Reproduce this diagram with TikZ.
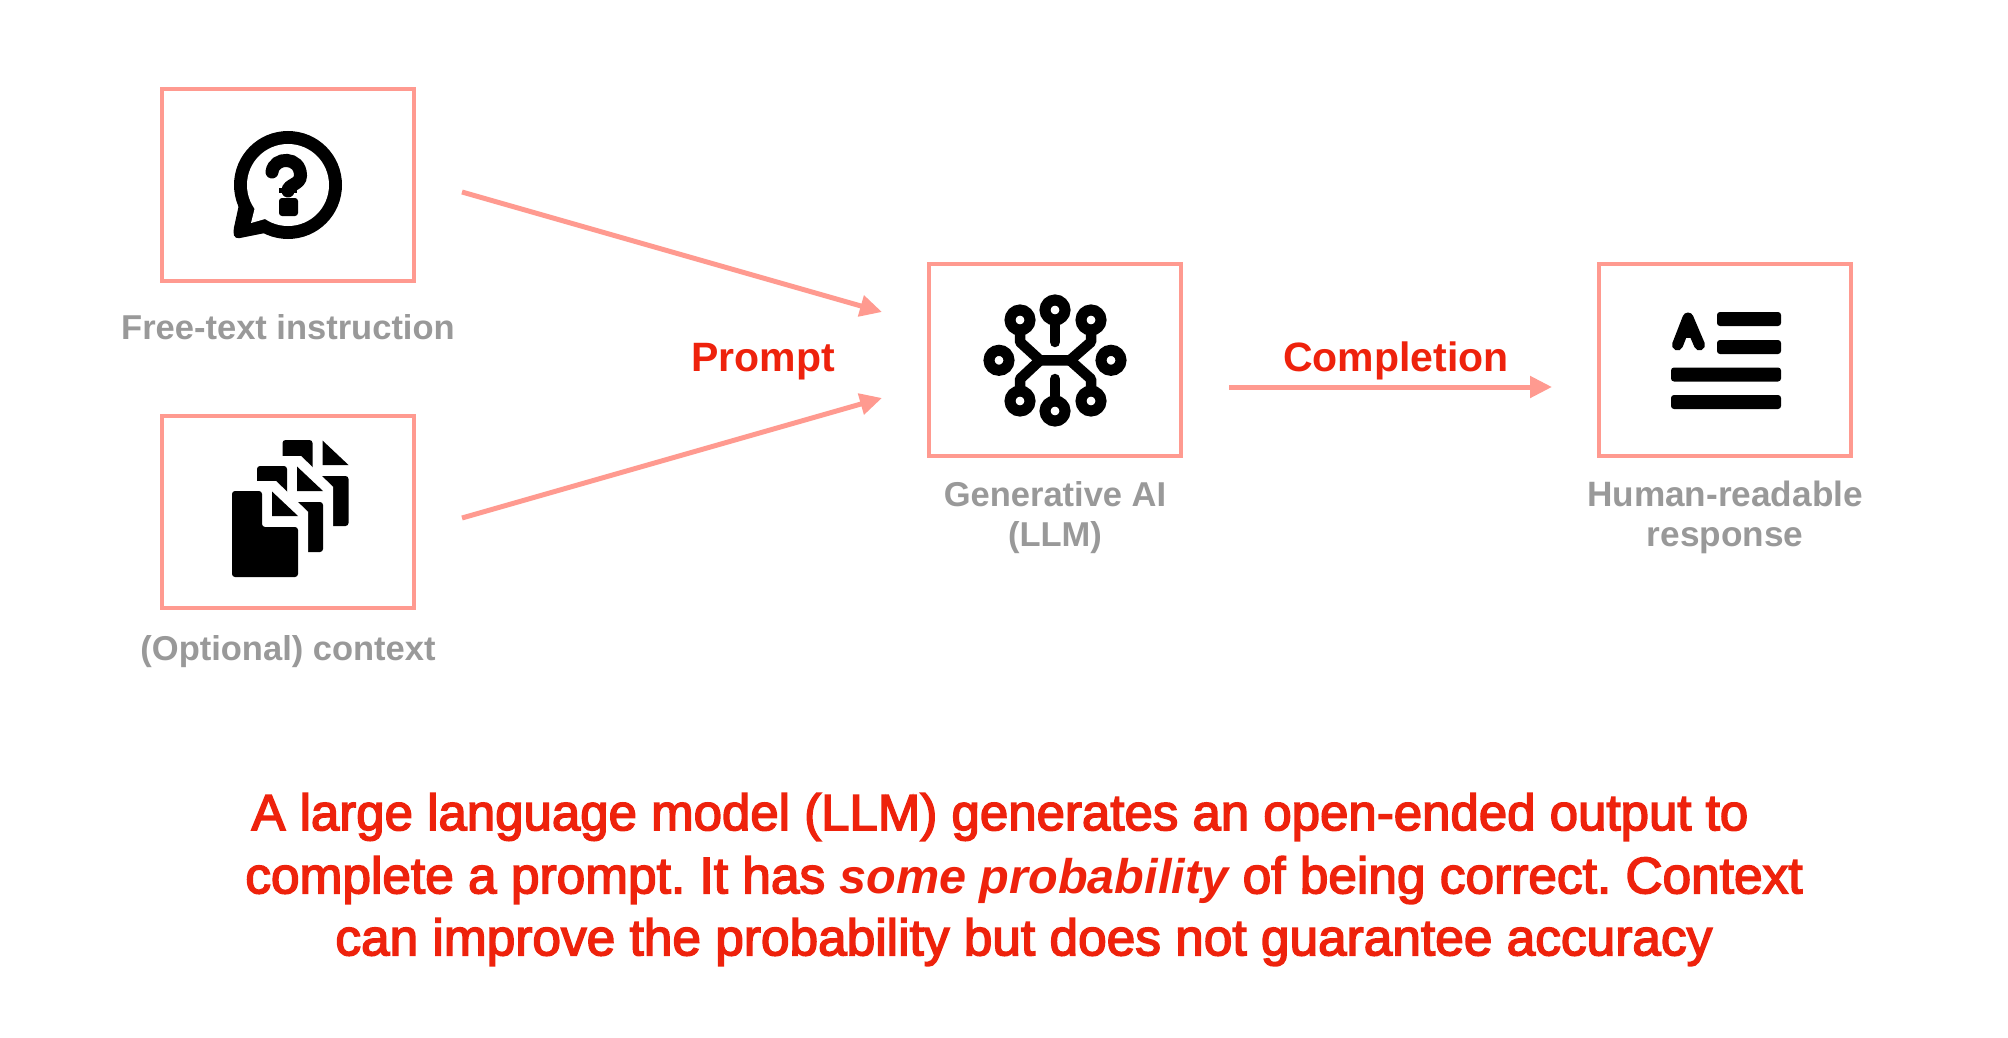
\documentclass[tikz,border=0pt]{standalone}
\usepackage{fontspec}
\setmainfont{Liberation Sans}
\newfontfamily\bodyfont[FakeBold=3]{Liberation Sans}
\newfontfamily\bifont[UprightFont={* Bold Italic}]{Liberation Sans}
\usetikzlibrary{arrows.meta}
\definecolor{boxpink}{HTML}{FF9A90}
\definecolor{cap}{HTML}{999999}
\definecolor{redtxt}{HTML}{EE220C}
\tikzset{x=1pt,y=-1pt,
 pic box/.style={draw=boxpink,line width=4pt,minimum width=252pt,minimum height=192pt,inner sep=0pt,outer sep=0pt,anchor=north west},
 caption/.style={text=cap,font=\fontsize{34.5}{40}\selectfont\bfseries,align=center,inner sep=0pt,anchor=center},
 lab/.style={text=redtxt,font=\fontsize{41}{46}\selectfont\bfseries,inner sep=0pt},
 flow/.style={draw=boxpink,line width=5pt,-{Triangle[length=22pt,width=21pt]}},
 body/.style={text=redtxt,font=\bodyfont\fontsize{51.4}{62}\selectfont\frenchspacing,inner sep=0pt,anchor=center},
 ink/.style={draw=black,line width=10.5pt,line cap=round,line join=round},
}
\begin{document}
\begin{tikzpicture}
\useasboundingbox (0,0) rectangle (2008,1038);
\fill[white] (0,0) rectangle (2008,1038);
\node[pic box] (q) at (162,89) {};
\node[pic box] (c) at (162,416) {};
\node[pic box] (g) at (929,264) {};
\node[pic box] (h) at (1599,264) {};
\node[caption] (t1) at (288,327) {Free-text instruction};
\node[caption] (t2) at (288,652) {(Optional) context};
\node[caption] (t3) at (1055,518) {Generative AI\\(LLM)};
\node[caption,font=\fontsize{35.2}{40}\selectfont\bfseries] (t4) at (1725,517) {Human-readable\\response};
\node[lab] (p) at (763,361.5) {Prompt};
\node[lab] (r) at (1396,361) {Completion};
\coordinate (a1) at (462,192);
\coordinate (a2) at (882,312);
\coordinate (b1) at (462,518);
\coordinate (b2) at (882,398);
\coordinate (d1) at (1229,387);
\coordinate (d2) at (1552,387);
\draw[flow] (a1) -- (a2);
\draw[flow] (b1) -- (b2);
\draw[flow] (d1) -- (d2);
% question bubble
\fill[black] (288,185) circle (54pt);
\fill[black,rounded corners=4pt] (240,200) -- (233,232) -- (235,239) -- (270,232) -- cycle;
\fill[white] (288,185) circle (41pt);
\fill[white] (256,203) -- (251,223) -- (272,217) -- cycle;
\draw[black,line width=13pt,line cap=round] (272,172) .. controls (274,156) and (300.5,156) .. (300.5,175.5) .. controls (300.5,185) and (288,184) .. (288,191);
\fill[black] (279,188) rectangle (297,193);
\fill[black,rounded corners=3pt] (279,198) rectangle (298,216);
% docs
\foreach \dx/\dy in {50.5/-51,25/-25,0/0}{
\begin{scope}[shift={(\dx,\dy)}]
\draw[white,line width=20pt,miter limit=10,fill=white] (232,491) -- (272,491) -- (298,516) -- (298,577) -- (232,577) -- cycle;
\fill[black,rounded corners=3pt] (232,491) -- (262,491) -- (262,527) -- (298,527) -- (298,577) -- (232,577) -- cycle;
\fill[black] (272,491.5) -- (298,516) -- (272,516) -- cycle;
\end{scope}
}
% circuit
\foreach \x/\y in {1055/310,1055/411,1020/320,1091/320,1020/401,1091/401,999/360.3,1111/360.3}{
 \draw[black,line width=11pt] (\x,\y) circle (10pt);
}
\draw[ink] (1055,325) -- (1055,342);
\draw[ink] (1055,379) -- (1055,396);
\draw[ink,line cap=butt] (1020,332) -- (1020,342) -- (1040,360.3) -- (1070,360.3) -- (1091,342) -- (1091,332);
\draw[ink,line cap=butt] (1020,389) -- (1020,379) -- (1040,360.3) (1070,360.3) -- (1091,379) -- (1091,389);
% text icon
\foreach \xa/\xb/\yy in {1717/1781/319,1717/1781/347,1671/1781/374.5,1671/1781/402}{
 \fill[black,rounded corners=3pt] (\xa,\yy-7) rectangle (\xb,\yy+7);
}
\draw[ink,line width=11pt] (1677.5,345) -- (1688,318) -- (1699.5,345);
\draw[black,line width=10pt] (1681,333) -- (1695,333);
% body
\node[body,font=\bodyfont\fontsize{51}{62}\selectfont\frenchspacing] (l1) at (1000,817) {A large language model (LLM) generates an open-ended output to};
\node[body] (l2) at (1024,880) {complete a prompt. It has {\bifont\fontsize{48.6}{62}\selectfont some probability} of being correct. Context};
\node[body] (l3) at (1024,942) {can improve the probability but does not guarantee accuracy};
\end{tikzpicture}
\end{document}
